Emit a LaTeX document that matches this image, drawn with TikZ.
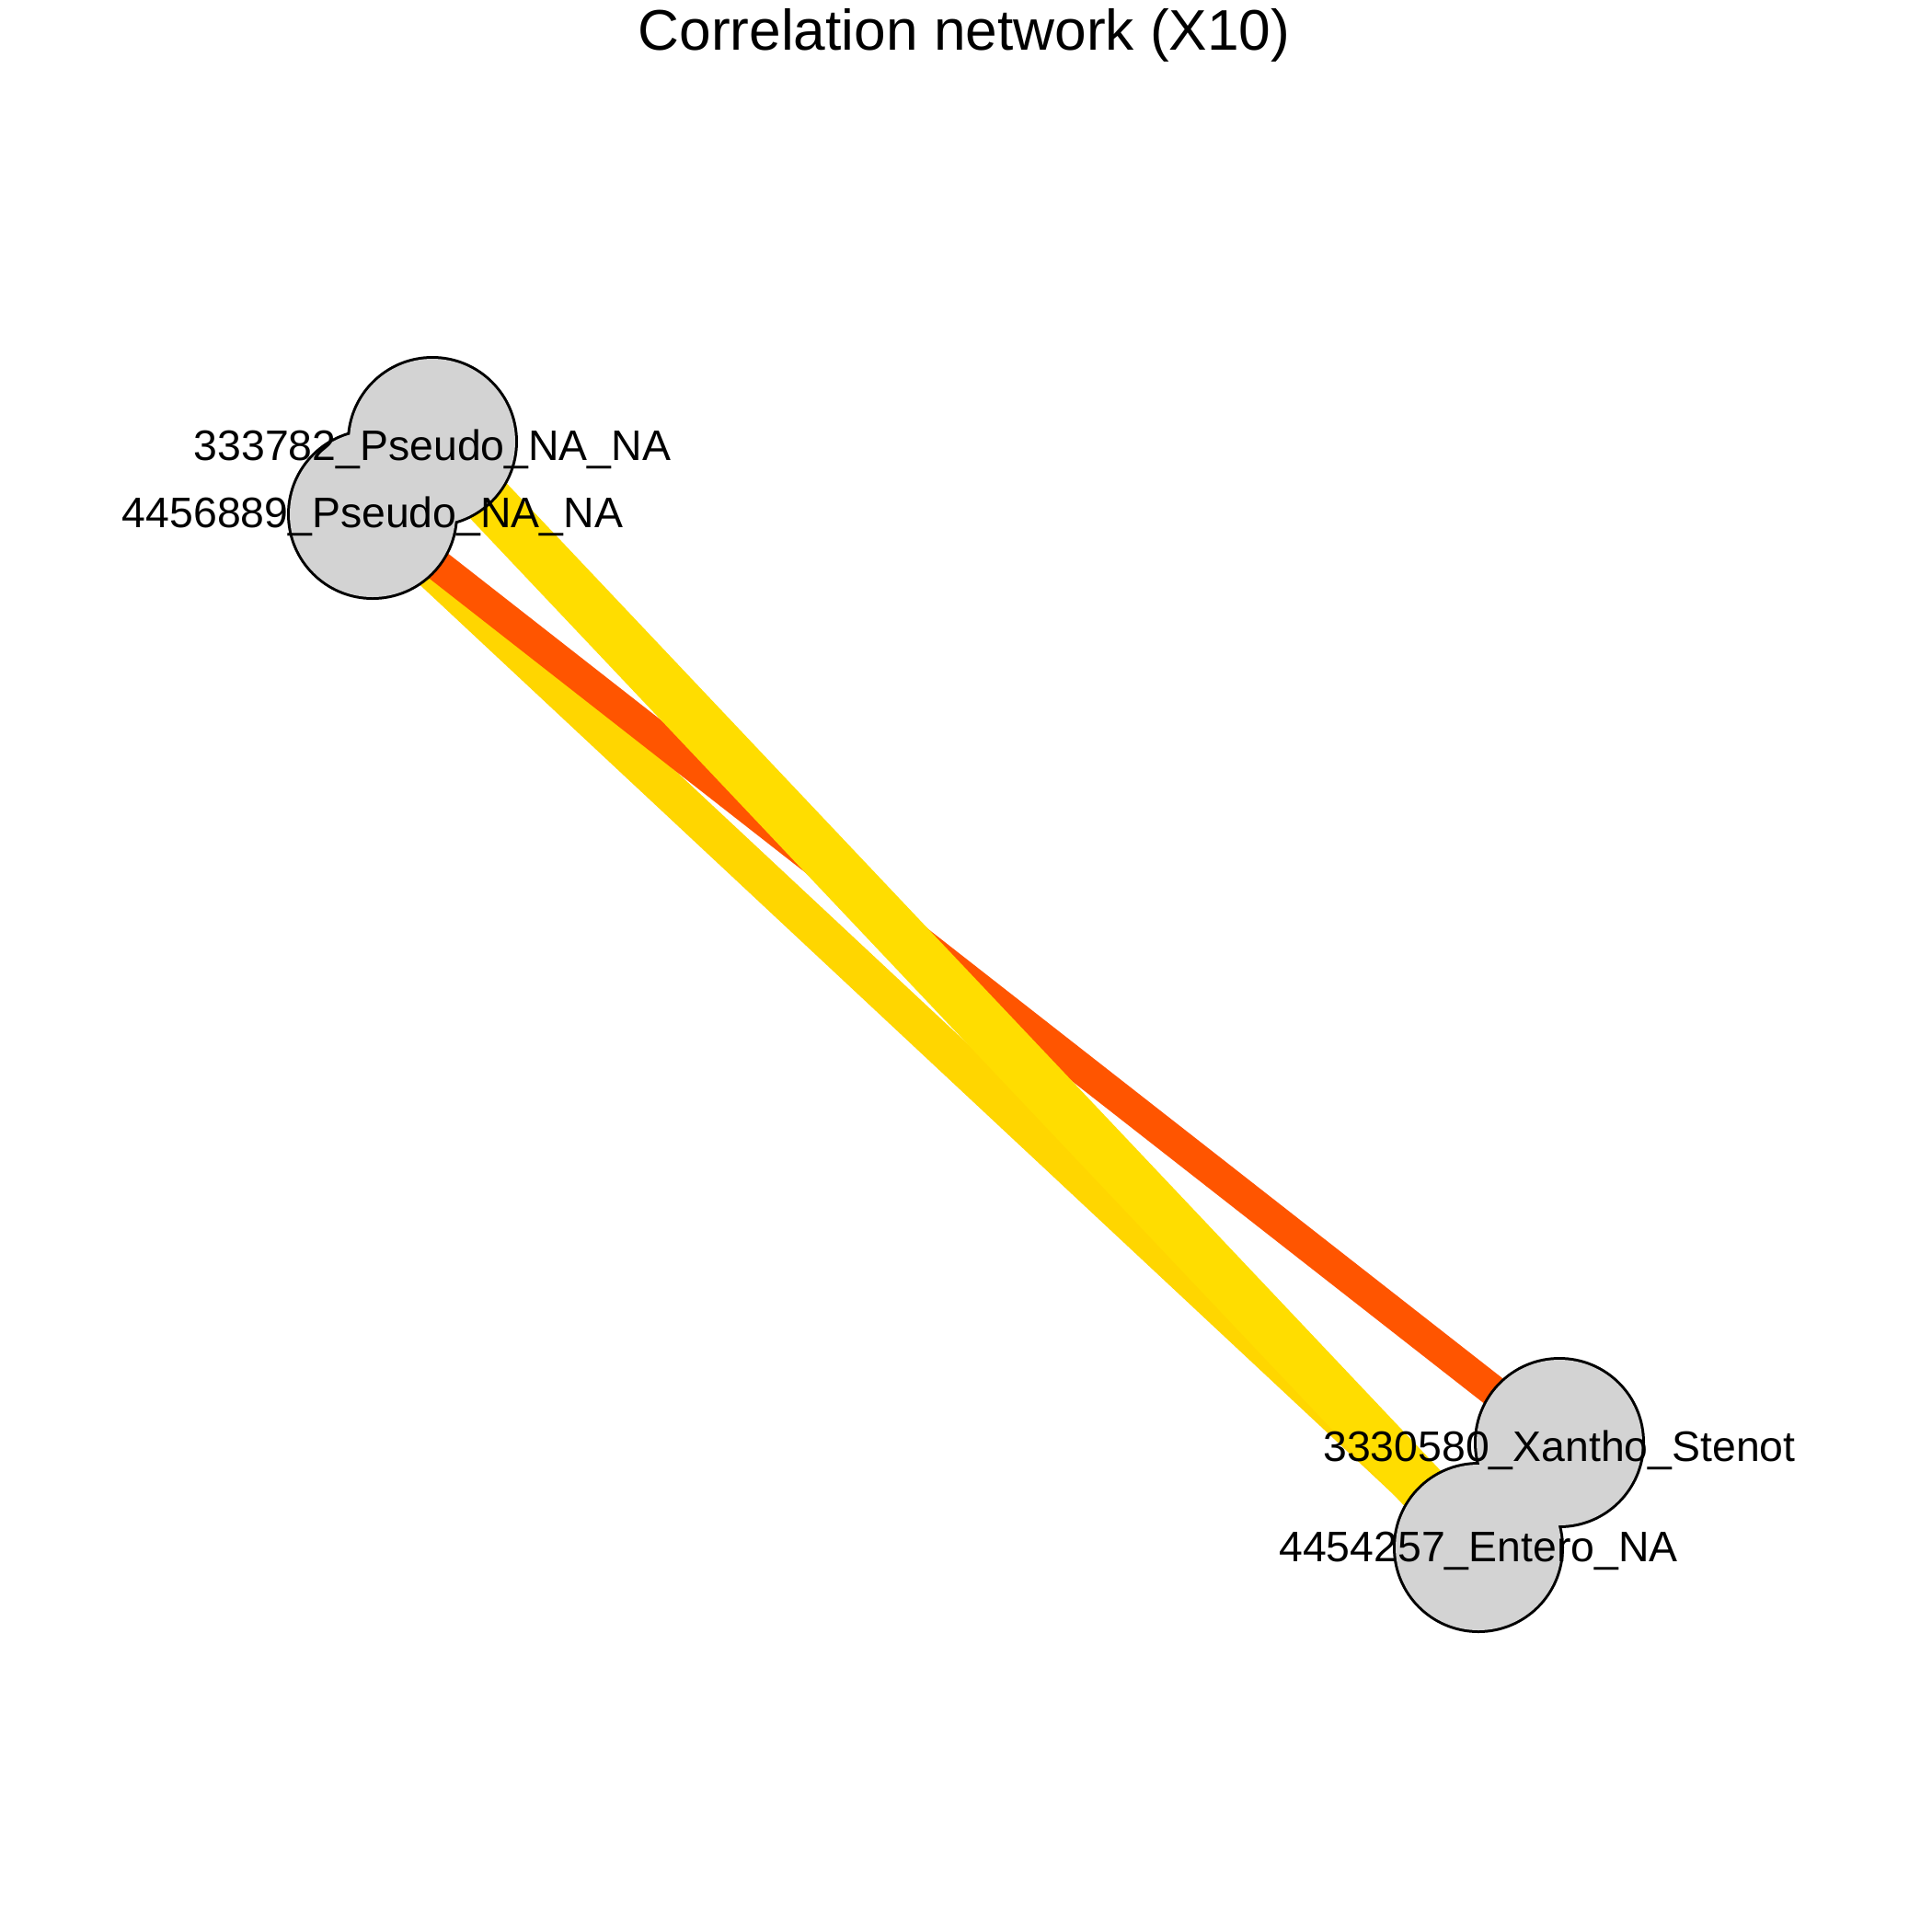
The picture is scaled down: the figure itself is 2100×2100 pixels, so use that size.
\documentclass[tikz,border=0pt]{standalone}
\usepackage{fontspec}
\setmainfont{Liberation Sans}
\definecolor{edgeAD}{RGB}{255,221,0}
\definecolor{edgeBD}{RGB}{255,214,0}
\definecolor{edgeBC}{RGB}{255,85,0}
\definecolor{vfill}{RGB}{211,211,211}
\tikzset{
  edgeline/.style={line cap=round},
  vborder/.style={draw=black, line width=2.16pt},
  vinside/.style={fill=vfill},
  vlabel/.style={anchor=base, inner sep=0pt, font=\fontsize{16.7pt}{20pt}\selectfont},
  titlelabel/.style={anchor=base, inner sep=0pt, font=\fontsize{22.4pt}{27pt}\selectfont}
}
\begin{document}
\begin{tikzpicture}[x=0.36pt,y=-0.36pt]
\useasboundingbox[fill=white] (0,0) rectangle (2100,2100);
% vertices
\coordinate (A) at (470,480);
\coordinate (B) at (405,559);
\coordinate (C) at (1695,1568);
\coordinate (D) at (1607,1682);
% edges
\draw[edgeline, draw=edgeBD, line width=15.1pt] (B) -- (D);
\draw[edgeline, draw=edgeBC, line width=12.2pt] (B) -- (C);
\draw[edgeline, draw=edgeAD, line width=19.8pt] (A) -- (D);
% vertex borders then fills (merged outline)
\foreach \v in {A,B,C,D} { \path[vborder] (\v) circle[radius=90]; }
\foreach \v in {A,B,C,D} { \path[vinside] (\v) circle[radius=90]; }
% labels
\node[vlabel] (lA) at (470,500) {333782\_Pseudo\_NA\_NA};
\node[vlabel] (lB) at (405,573) {4456889\_Pseudo\_NA\_NA};
\node[vlabel] (lC) at (1695,1588) {3330580\_Xantho\_Stenot};
\node[vlabel] (lD) at (1607,1697) {4454257\_Entero\_NA};
% title
\node[titlelabel] (title) at (1048,54) {Correlation network (X10)};
\end{tikzpicture}
\end{document}
